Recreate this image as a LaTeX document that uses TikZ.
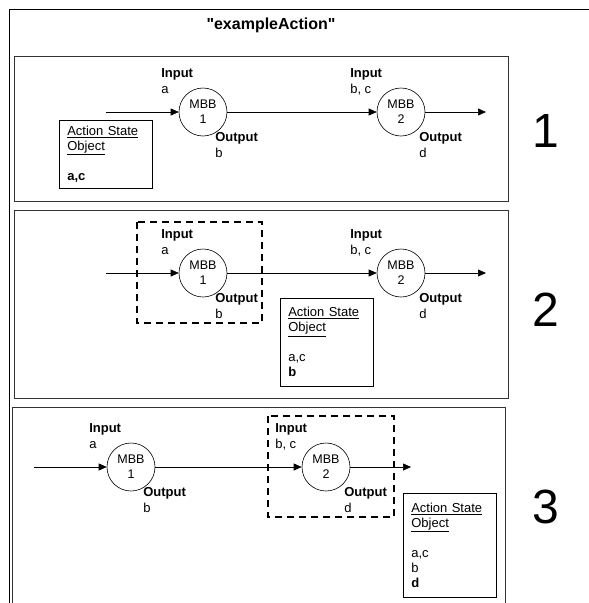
\documentclass[tikz,border=0pt]{standalone}
\usepackage{fontspec}
\setmainfont{Liberation Sans}
\newfontfamily\titlefont{Liberation Sans}
\usetikzlibrary{arrows.meta,positioning}

\begin{document}
\begin{tikzpicture}[x=1pt,y=-1pt,node distance=198pt,semithick,>={Triangle[length=8pt,width=7pt]}]
  \tikzset{every node/.style={font=\fontsize{13}{16}\selectfont},
    mbb/.style={circle,draw,minimum size=48pt,inner sep=0pt,align=center,font=\fontsize{12.5}{15}\selectfont},
    lbl/.style={anchor=north west,inner sep=0pt,align=left},
    asobox/.style={draw,anchor=north west,text width=77pt,inner xsep=8pt,align=left,font=\fontsize{13}{15}\selectfont},
    focus/.style={dash pattern=on 7pt off 5pt,line width=1.4pt},
    panel/.style={draw=black!80,line width=0.9pt},
    panelno/.style={font=\fontsize{48}{48}\selectfont}}
  \useasboundingbox (0,0) rectangle (589,603);

  % frame and title
  \draw[line width=0.9pt] (9.5,603) -- (9.5,9.5) -- (589,9.5);
  \node[font=\titlefont\bfseries\fontsize{16}{18}\selectfont] (title) at (271,25) {"exampleAction"};

  % the three steps
  \draw[panel] (14,56) rectangle (508,201);
  \draw[panel] (14,210) rectangle (508,398);
  \draw[panel] (12.5,603) |- (505,407) -- (505,603);

  \foreach \p/\x/\y/\d in {1/203/112/198, 2/203/273/198, 3/131/467/195}{
    \node[mbb] (a\p) at (\x,\y) {MBB\\1};
    \node[mbb,node distance=\d pt] (b\p) [right of=a\p] {MBB\\2};
    \coordinate (s\p) at ([xshift=-97pt]a\p.center);
    \coordinate (e\p) at ([xshift=85pt]b\p.center);
    \draw[->] (s\p) -- (a\p);
    \draw[->] (a\p) -- (b\p);
    \draw[->] (b\p) -- (e\p);
    \node[lbl] (ia\p) at ([shift={(-42,-44)}]a\p.center) {\textbf{Input}\\a};
    \node[lbl] (oa\p) at ([shift={(12,20)}]a\p.center) {\textbf{Output}\\b};
    \node[lbl] (ib\p) at ([shift={(-51,-44)}]b\p.center) {\textbf{Input}\\b, c};
    \node[lbl] (ob\p) at ([shift={(18,20)}]b\p.center) {\textbf{Output}\\d};
  }

  % block being run
  \draw[focus] ([shift={(-66,-51)}]a2.center) rectangle ([shift={(59,50)}]a2.center);
  \draw[focus] ([shift={(-58,-51)}]b3.center) rectangle ([shift={(68,50)}]b3.center);

  % action state object
  \node[asobox,minimum height=68pt] (aso1) at (59,120) {\underline{Action State}\\\underline{Object}\\[15pt]\textbf{a,c}};
  \node[asobox,minimum height=88pt] (aso2) at (280,298) {\underline{Action State}\\\underline{Object}\\[15pt]a,c\\\textbf{b}};
  \node[asobox,minimum height=104pt] (aso3) at (403,493) {\underline{Action State}\\\underline{Object}\\[15pt]a,c\\b\\\textbf{d}};

  \foreach \p/\y in {1/131,2/310,3/507}
    \node[panelno] (n\p) at (546,\y) {\p};
\end{tikzpicture}
\end{document}
